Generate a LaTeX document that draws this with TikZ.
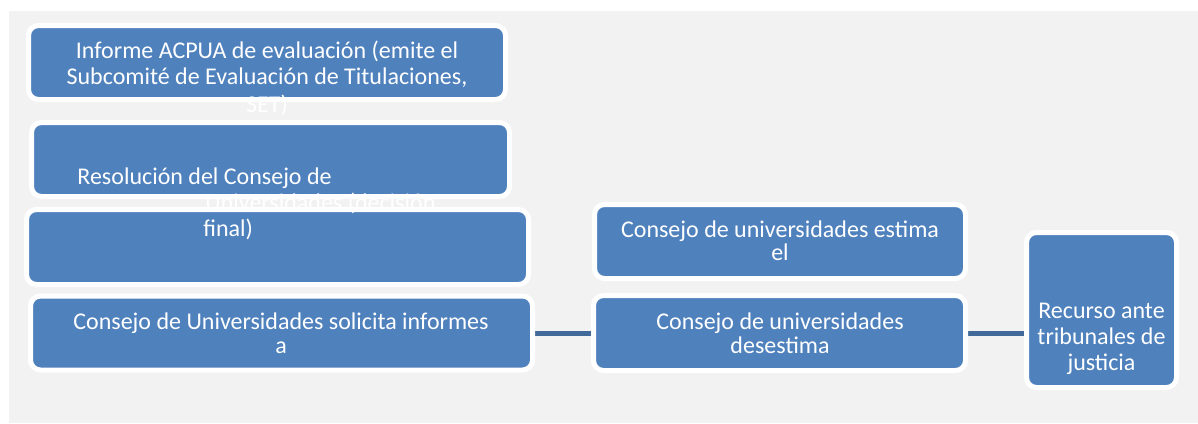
\documentclass[tikz,border=0pt]{standalone}
\usepackage{fontspec}
\setmainfont{Carlito}
\usetikzlibrary{backgrounds}
\definecolor{boxblue}{HTML}{4F81BD}
\definecolor{linkblue}{HTML}{41699A}
\definecolor{pagegray}{HTML}{F2F2F2}

\tikzset{
  stage/.style={rectangle, rounded corners=5pt, fill=boxblue, draw=white,
    line width=2.5pt, inner sep=0pt, outer sep=0pt},
  lbl/.style={text=white, font=\fontsize{12}{13}\selectfont, inner sep=0pt,
    align=center, anchor=base},
  link/.style={draw=linkblue, line width=2.5pt}
}

\begin{document}
\begin{tikzpicture}[x=0.5pt, y=-0.5pt]
                  \useasboundingbox (0,0) rectangle (1198,423);
                  % boxes
                  \node[stage, minimum width=238.5pt, minimum height=37pt] (informe) at (267,62.5) {};
                  \node[stage, minimum width=239pt, minimum height=37pt] (resol) at (270.5,159.5) {};
                  \node[stage, minimum width=251pt, minimum height=37.5pt] (vacio) at (277.5,247) {};
                  \node[stage, minimum width=251pt, minimum height=37pt] (solicita) at (281.5,333) {};
                  \node[stage, minimum width=185.5pt, minimum height=37pt] (estima) at (780,241.5) {};
                  \node[stage, minimum width=186pt, minimum height=37.5pt] (desestima) at (779.5,333) {};
                  \node[stage, minimum width=75pt, minimum height=77.5pt] (recurso) at (1101.5,310) {};
                  % texts (anchored on the last line)
                  \node[lbl, font=\fontsize{12}{13.5}\selectfont] (tinforme) at (267,112) {Informe ACPUA de evaluación (emite el\\Subcomité de Evaluación de Titulaciones,\\SET)};
                  \node[lbl, align=left, anchor=base west] (tresol) at (77,236) {Resolución del Consejo de\\\hspace*{64pt}Universidades (decisión\\\hspace*{63pt}final)};
                  \node[lbl, font=\fontsize{12}{12}\selectfont] (tsolicita) at (281,353) {Consejo de Universidades solicita informes\\a};
                  \node[lbl, font=\fontsize{12}{11.5}\selectfont] (testima) at (780,260) {Consejo de universidades estima\\el};
                  \node[lbl, font=\fontsize{12}{12}\selectfont] (tdesestima) at (780,353) {Consejo de universidades\\desestima};
                  \node[lbl] (trecurso) at (1101.5,370) {Recurso ante\\tribunales de\\justicia};
                  \begin{scope}[on background layer]
                    \fill[pagegray] (9,11) rectangle (1198,423);
                    \draw[link] (solicita.east) -- (desestima.west);
                    \draw[link] (desestima.east) -- (desestima.east -| recurso.west);
                  \end{scope}
                \end{tikzpicture}
\end{document}
